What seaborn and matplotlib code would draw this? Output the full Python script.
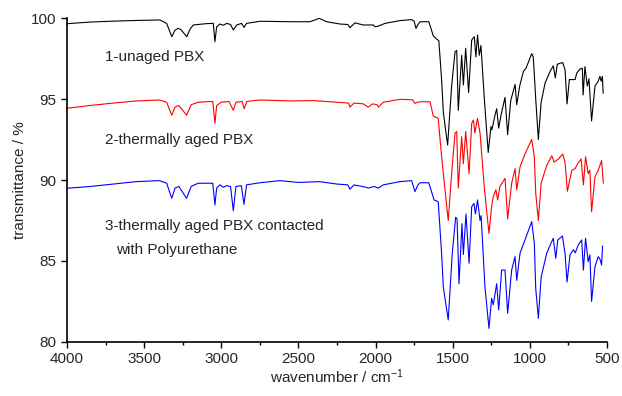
import numpy as np
import pandas as pd
import matplotlib
matplotlib.use("Agg")
import matplotlib.pyplot as plt
from matplotlib.ticker import MultipleLocator
import seaborn as sns

# spectrum 1: unaged PBX (wavenumber cm-1, transmittance %)
wn_1 = [4000, 3850, 3721, 3550, 3397, 3354, 3321, 3300, 3280, 3263, 3224, 3200, 3181, 3100,
        3052, 3041, 3030, 3009, 2987, 2965, 2940, 2922, 2900, 2868, 2853, 2836, 2749, 2533,
        2425, 2365, 2317, 2231, 2180, 2166, 2134, 2080, 2015, 2004, 1982, 1939, 1842, 1766,
        1750, 1738, 1725, 1712, 1655, 1626, 1604, 1590, 1572, 1561, 1545, 1533, 1507, 1485,
        1474, 1464, 1442, 1431, 1416, 1397, 1377, 1360, 1350, 1339, 1328, 1317, 1295, 1270,
        1252, 1246, 1226, 1215, 1202, 1187, 1161, 1144, 1124, 1096, 1085, 1066, 1042, 1025,
        988, 978, 968, 962, 945, 927, 901, 869, 848, 835, 822, 787, 772, 759, 744, 728, 707,
        696, 675, 660, 655, 643, 628, 617, 600, 578, 557, 546, 538, 530, 525]
t_1 = [99.65, 99.75, 99.8, 99.85, 99.88, 99.67, 98.85, 99.25, 99.36, 99.3, 98.85, 99.35, 99.57, 99.65,
       99.67, 98.54, 99.46, 99.63, 99.55, 99.67, 99.6, 99.26, 99.57, 99.67, 99.42, 99.67, 99.8, 99.77,
       99.77, 99.98, 99.77, 99.63, 99.6, 99.4, 99.7, 99.57, 99.57, 99.46, 99.5, 99.67, 99.84, 99.9,
       99.8, 99.36, 99.6, 99.77, 99.77, 98.9, 98.7, 98.6, 96.2, 94.2, 93.0, 92.16, 95.8, 97.92,
       98.0, 94.3, 97.7, 95.86, 98.13, 95.4, 98.64, 98.85, 97.6, 98.95, 97.7, 98.3, 95.0, 91.7,
       93.3, 93.1, 94.0, 94.4, 93.2, 94.0, 95.1, 92.8, 94.9, 95.9, 94.65, 95.8, 96.7, 96.9,
       97.8, 97.6, 96.0, 95.0, 92.5, 94.8, 96.0, 96.7, 97.05, 96.3, 97.15, 97.25, 96.8, 94.7, 96.2, 96.2, 96.2,
       96.6, 96.85, 96.9, 95.25, 97.0, 95.8, 96.25, 93.65, 95.8, 96.1, 96.4, 96.1, 96.4, 95.35]

# spectrum 2: thermally aged PBX
wn_2 = [4000, 3850, 3700, 3550, 3400, 3354, 3321, 3300, 3275, 3225, 3195, 3150, 3055, 3041,
        3030, 3000, 2950, 2922, 2905, 2865, 2852, 2835, 2750, 2550, 2400, 2250, 2175, 2166,
        2140, 2080, 2047, 2020, 1990, 1982, 1950, 1842, 1760, 1745, 1730, 1712, 1647, 1626,
        1594, 1572, 1550, 1529, 1507, 1485, 1474, 1464, 1442, 1431, 1416, 1394, 1377, 1366,
        1356, 1340, 1323, 1295, 1265, 1248, 1237, 1220, 1209, 1194, 1161, 1144, 1118, 1096,
        1085, 1064, 1032, 988, 971, 962, 945, 927, 891, 858, 843, 815, 787, 772, 757, 728,
        707, 690, 668, 653, 639, 622, 611, 600, 578, 557, 546, 535, 524]
t_2 = [94.43, 94.6, 94.75, 94.88, 94.94, 94.8, 94.0, 94.5, 94.6, 94.0, 94.65, 94.8, 94.85, 93.5,
       94.6, 94.8, 94.85, 94.3, 94.8, 94.85, 94.4, 94.85, 94.94, 94.88, 94.9, 94.8, 94.75, 94.5,
       94.75, 94.7, 94.5, 94.7, 94.65, 94.5, 94.8, 94.98, 94.95, 94.73, 94.8, 94.83, 94.83, 93.95,
       93.8, 91.44, 89.4, 87.5, 90.4, 92.9, 93.0, 89.5, 92.67, 91.0, 93.0, 90.4, 93.5, 93.7,
       92.9, 93.8, 92.9, 89.5, 86.7, 88.35, 88.97, 89.4, 88.77, 89.6, 90.1, 87.6, 89.8, 90.7,
       89.4, 90.8, 91.6, 92.5, 91.44, 89.2, 87.5, 89.8, 90.9, 91.5, 91.1, 91.3, 91.6, 91.1, 89.3, 90.6,
       90.7, 91.0, 91.3, 89.7, 91.44, 90.4, 90.6, 88.04, 90.2, 90.6, 90.9, 91.2, 89.8]

# spectrum 3: thermally aged PBX contacted with polyurethane
wn_3 = [4000, 3850, 3700, 3550, 3400, 3354, 3321, 3300, 3275, 3225, 3195, 3150, 3055, 3041,
        3030, 3009, 2987, 2965, 2940, 2922, 2905, 2870, 2853, 2836, 2750, 2620, 2500, 2365,
        2250, 2180, 2166, 2140, 2060, 2047, 2010, 1982, 1950, 1842, 1766, 1745, 1725, 1712,
        1655, 1621, 1594, 1572, 1561, 1550, 1529, 1503, 1481, 1472, 1459, 1440, 1431, 1414,
        1394, 1377, 1362, 1353, 1339, 1323, 1316, 1291, 1265, 1248, 1237, 1215, 1202, 1183,
        1161, 1144, 1118, 1096, 1085, 1064, 1032, 988, 971, 962, 945, 927, 891, 863, 848, 832,
        819, 789, 772, 759, 740, 718, 706, 686, 664, 653, 639, 622, 611, 600, 578, 557, 545,
        535, 529]
t_3 = [89.49, 89.6, 89.75, 89.9, 89.96, 89.8, 88.87, 89.5, 89.6, 88.87, 89.6, 89.8, 89.8, 88.46,
       89.5, 89.7, 89.55, 89.65, 89.6, 88.1, 89.6, 89.65, 88.5, 89.7, 89.83, 89.96, 89.85, 89.9,
       89.75, 89.7, 89.43, 89.7, 89.55, 89.5, 89.6, 89.5, 89.7, 89.9, 89.96, 89.28, 89.7, 89.83,
       89.83, 88.77, 88.66, 85.47, 83.4, 82.7, 81.36, 85.47, 87.7, 87.6, 83.6, 87.3, 85.4, 87.9,
       84.86, 88.35, 88.56, 87.9, 88.77, 87.5, 87.8, 83.4, 80.84, 82.7, 82.3, 83.6, 81.98, 84.44,
       84.44, 81.77, 84.44, 85.27, 83.8, 85.47, 86.3, 87.43, 86.1, 83.3, 81.46, 84.0, 85.47, 86.1, 86.4, 85.17,
       86.3, 86.54, 85.47, 83.7, 85.37, 85.7, 85.5, 86.0, 86.3, 84.44, 86.4, 84.96, 85.37, 82.5, 84.65, 85.27, 85.1,
       84.75, 85.93]

colors = {"1": "black", "2": "red", "3": "blue"}

df = pd.concat([
    pd.DataFrame({"wn": wn_1, "t": t_1, "sample": "1"}),
    pd.DataFrame({"wn": wn_2, "t": t_2, "sample": "2"}),
    pd.DataFrame({"wn": wn_3, "t": t_3, "sample": "3"}),
])

sns.set_style("ticks")
plt.rcParams["font.family"] = ["Liberation Sans", "DejaVu Sans"]
plt.rcParams["mathtext.fontset"] = "custom"
plt.rcParams["mathtext.rm"] = "Liberation Sans"
plt.rcParams["mathtext.it"] = "Liberation Sans"

fig = plt.figure(figsize=(6.22, 3.96), dpi=100)
ax = fig.add_axes([0.1077, 0.1364, 0.8682, 0.8181])

sns.lineplot(data=df, x="wn", y="t", hue="sample", palette=colors, estimator=None,
             linewidth=0.8, legend=False, ax=ax)

fs = 11
ax.set_xlim(4000, 500)
ax.set_ylim(80, 100)
ax.xaxis.set_major_locator(MultipleLocator(500))
ax.xaxis.set_minor_locator(MultipleLocator(250))
ax.yaxis.set_major_locator(MultipleLocator(5))
ax.tick_params(which="major", direction="out", length=4.5, width=1, labelsize=fs, color="black", pad=3)
ax.tick_params(which="minor", direction="out", length=2.5, width=1, color="black")
sns.despine(ax=ax)
for s in ["left", "bottom"]:
    ax.spines[s].set_linewidth(1.2)
    ax.spines[s].set_color("black")

ax.set_xlabel("wavenumber / cm$^{-1}$", fontsize=fs, labelpad=1)
ax.set_ylabel("transmittance / %", fontsize=fs, labelpad=3)

ax.text(3754, 97.6, "1-unaged PBX", fontsize=fs, va="center")
ax.text(3754, 92.45, "2-thermally aged PBX", fontsize=fs, va="center")
ax.text(3754, 87.15, "3-thermally aged PBX contacted", fontsize=fs, va="center")
ax.text(3680, 85.65, "with Polyurethane", fontsize=fs, va="center")

fig.savefig("out.png", dpi=100)
